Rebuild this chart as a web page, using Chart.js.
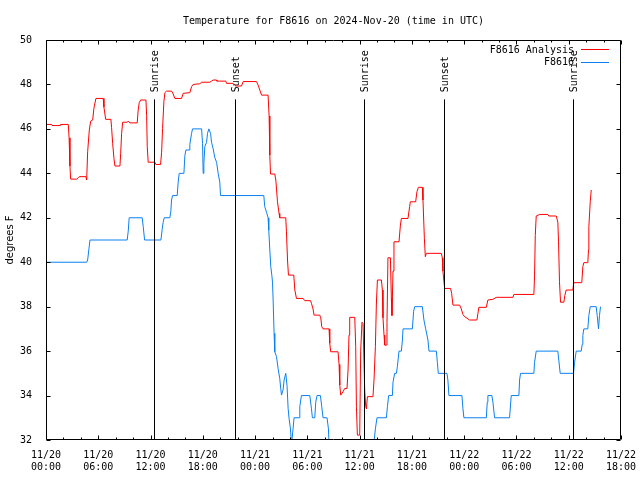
<!DOCTYPE html>
<html><head><meta charset="utf-8">
<script src="https://cdn.jsdelivr.net/npm/chart.js@4.4.1/dist/chart.umd.min.js"></script>
<style>html,body{margin:0;padding:0;background:#fff;}#wrap{width:640px;height:480px;position:relative;}</style>
</head><body><div id="wrap"><canvas id="c" width="640" height="480"></canvas></div>
<script>
// Hours since 2024-11-20 00:00 UTC
const analysisHours = [0,0.65,0.69,1.61,1.65,2.56,2.65,2.75,2.83,3.52,3.70,3.82,4.59,4.67,4.78,4.97,5.13,5.36,5.50,5.73,6.57,6.65,6.85,7.45,7.53,7.65,7.80,7.91,8.49,8.57,8.68,8.80,9.32,9.44,9.63,10.47,10.58,10.70,10.86,11.47,11.55,11.62,11.73,12.50,12.61,13.15,13.27,13.38,13.53,13.65,13.84,14.42,14.60,14.79,15.56,15.75,16.51,16.71,16.89,17.66,17.86,18.81,19.00,19.19,19.58,19.61,20.64,20.72,21.48,21.67,21.79,22.44,22.63,24.16,24.35,24.54,24.74,25.49,25.61,25.69,25.77,26.26,26.38,26.57,26.75,26.83,27.52,27.60,27.72,27.83,28.44,28.56,28.75,29.51,29.70,30.36,30.47,30.65,30.77,31.42,31.54,31.65,31.80,32.49,32.57,32.68,33.52,33.64,33.72,33.83,34.09,34.29,34.55,34.67,34.78,34.86,35.44,35.55,35.63,35.74,36.01,36.12,36.27,36.39,36.58,36.70,36.78,36.89,37.53,37.65,37.81,37.92,38.04,38.50,38.61,38.68,38.80,38.88,39.07,39.14,39.25,39.53,39.64,39.71,39.83,39.94,40.52,40.68,40.79,41.55,41.74,41.82,42.43,42.58,42.74,43.20,43.27,43.43,43.54,43.66,45.38,45.49,45.56,45.68,45.76,46.44,46.56,46.71,47.48,47.67,47.86,48.05,48.62,49.46,49.58,49.69,50.54,50.72,51.30,51.69,53.59,53.70,56.00,56.08,56.16,56.27,56.65,57.60,57.72,58.57,58.75,58.83,58.94,59.06,59.44,59.55,59.71,60.47,60.58,61.50,61.62,61.73,62.19,62.27,62.31,62.47,62.58];
const analysisTemps = [46.2,46.2,46.15,46.15,46.2,46.2,45.6,44.33,43.74,43.74,43.8,43.85,43.85,43.7,44.97,45.95,46.35,46.4,46.93,47.37,47.37,46.98,46.43,46.43,46.05,45.35,44.67,44.33,44.33,44.9,45.8,46.3,46.3,46.35,46.27,46.27,46.85,47.18,47.3,47.3,46.6,45.2,44.5,44.5,44.4,44.4,44.95,46.02,47.22,47.63,47.7,47.7,47.57,47.37,47.37,47.6,47.63,47.9,48.0,48.03,48.1,48.1,48.15,48.2,48.2,48.15,48.15,48.05,48.05,47.97,47.93,47.93,48.13,48.13,47.97,47.75,47.52,47.52,46.58,44.82,43.97,43.97,43.7,42.72,42.2,42.0,42.0,41.37,40.1,39.42,39.42,38.75,38.37,38.37,38.27,38.27,38.15,37.9,37.62,37.62,37.5,37.1,37.0,37.0,36.35,35.97,35.97,35.4,34.47,34.02,34.17,34.32,34.32,35.15,36.72,37.52,37.52,36.2,33.5,32.22,32.22,36.0,37.3,37.25,34.25,33.5,33.4,33.95,33.95,34.7,36.2,38.12,39.2,39.2,38.75,37.5,36.72,36.27,36.27,37.3,40.2,40.2,38.4,37.6,39.6,40.92,40.92,41.67,41.97,41.97,42.5,42.72,42.72,43.17,43.37,43.37,42.8,41.08,40.25,40.4,40.4,40.2,39.6,39.12,38.82,38.82,38.6,38.07,38.07,37.9,37.65,37.55,37.4,37.4,37.7,37.97,37.97,38.3,38.33,38.42,38.42,38.55,38.55,39.42,41.2,42.08,42.15,42.15,42.08,42.08,41.8,40.92,39.12,38.2,38.2,38.5,38.75,38.75,39.08,39.08,39.8,39.98,39.98,40.55,41.6,42.72,43.25];
const obsHours = [0,4.67,4.78,4.93,5.05,9.32,9.44,9.55,11.04,11.16,11.32,13.19,13.34,13.45,13.57,14.22,14.33,14.41,14.53,15.06,15.17,15.29,15.83,15.94,16.06,16.43,16.51,16.71,16.82,17.86,17.97,18.04,18.12,18.23,18.43,18.54,18.69,18.89,19.00,19.19,19.38,19.58,19.76,19.95,20.03,25.00,25.11,25.31,25.49,25.57,25.69,25.80,25.92,26.00,26.07,26.18,26.26,26.46,26.64,26.83,26.95,27.03,27.21,27.33,27.52,27.67,27.79,27.90,28.06,28.18,28.36,28.47,29.05,29.13,29.32,30.28,30.47,30.58,30.85,30.96,31.11,31.50,31.65,31.80,32.26,32.42,32.49,32.80,34.29,34.86,36.58,37.39,37.81,37.99,39.07,39.19,39.33,39.76,39.83,40.02,40.22,40.33,40.52,40.79,40.91,40.98,42.05,42.20,42.32,43.20,43.38,43.58,43.84,43.96,44.81,44.92,45.03,46.02,46.13,46.25,47.74,47.86,47.97,50.54,50.65,50.72,51.18,51.30,51.49,53.21,53.40,54.28,54.36,54.47,56.00,56.08,56.27,58.75,58.86,59.02,60.55,60.67,60.86,61.43,61.55,61.62,61.73,62.19,62.31,62.47,63.15,63.27,63.42,63.53,63.65];
const obsTemps = [40,40,40.1,40.6,41,41,41.4,42,42,41.6,41,41,41.5,41.8,42,42,42.3,42.8,43,43,43.6,44,44,44.8,45.05,45.05,45.3,45.8,46,46,45.35,44.0,44.45,45.2,45.4,45.8,46,45.8,45.4,45.1,44.7,44.5,44.0,43.6,43,43,42.5,42.25,42,41.45,40.55,39.8,39.42,39.1,38.3,36.8,35.97,35.75,35.22,34.77,34.3,34.02,34.25,34.7,35.0,34.42,33.42,32.97,32.5,31.8,32.5,33,33,33.5,34,34,33.4,33,33,33.7,34,34,33.5,33,33,32.5,31.8,31,31,30,30,31,32.5,33,33,33.5,34,34,34.6,35,35,35.3,36,36,36.5,37,37,37.8,38,38,37.4,37,36.5,36,36,35.5,35,35,34.7,34,34,33.4,33,33,33.7,34,34,33.7,33,33,34,34,34.7,35,35,35.5,36,36,35.6,35,35,35.5,36,36,36.3,36.7,37,37,37.6,38,38,37.6,37,37.6,38];
const sunEventHours = [12.42, 21.67, 36.5, 45.68, 60.47];
const sunEventLabels = ["Sunrise", "Sunset", "Sunrise", "Sunset", "Sunrise"];
const sunLineTopTemp = 47.33;
const xTickHours = [0, 6, 12, 18, 24, 30, 36, 42, 48, 54, 60, 66];
const xTickDates = ["11/20","11/20","11/20","11/20","11/21","11/21","11/21","11/21","11/22","11/22","11/22","11/22"];
const xTickTimes = ["00:00","06:00","12:00","18:00","00:00","06:00","12:00","18:00","00:00","06:00","12:00","18:00"];
const yTicks = [32, 34, 36, 38, 40, 42, 44, 46, 48, 50];
const seriesNames = ["F8616 Analysis", "F8616"];
const seriesColors = ["#ff0000", "#0a80f0"];
const titleText = "Temperature for F8616 on 2024-Nov-20 (time in UTC)";
const yTitle = "degrees F";

const MONO = "'DejaVu Sans Mono', 'Liberation Mono', monospace";
const SANS = "'DejaVu Sans', sans-serif";

const overlay = {
  id: 'overlay',
  afterDraw(chart) {
    const { ctx, chartArea: a, scales: { x, y } } = chart;
    ctx.save();
    ctx.strokeStyle = '#000';
    ctx.lineWidth = 1;
    const L = Math.round(a.left) + 0.5, R = Math.round(a.right) - 0.5;
    const T = Math.round(a.top) + 0.5, B = Math.round(a.bottom) - 0.5;
    // sunrise / sunset lines
    ctx.beginPath();
    sunEventHours.forEach(h => {
      const px = Math.round(x.getPixelForValue(h)) + 0.5;
      ctx.moveTo(px, y.getPixelForValue(32));
      ctx.lineTo(px, y.getPixelForValue(sunLineTopTemp));
    });
    ctx.stroke();
    ctx.fillStyle = '#000';
    ctx.font = "10px " + MONO;
    sunEventHours.forEach((h, i) => {
      const px = Math.round(x.getPixelForValue(h)) + 0.5;
      const top = y.getPixelForValue(sunLineTopTemp);
      ctx.save();
      ctx.translate(px + 1, top - 7);
      ctx.rotate(-Math.PI / 2);
      ctx.textAlign = 'left';
      ctx.textBaseline = 'middle';
      ctx.fillText(sunEventLabels[i], 0, 0);
      ctx.restore();
    });
    // frame
    ctx.beginPath();
    ctx.rect(L, T, R - L, B - T);
    ctx.stroke();
    // ticks
    ctx.beginPath();
    yTicks.forEach(v => {
      const py = Math.round(y.getPixelForValue(v)) + 0.5;
      ctx.moveTo(L, py); ctx.lineTo(L + 4, py);
      ctx.moveTo(R, py); ctx.lineTo(R - 4, py);
    });
    for (let h = 0; h <= 66; h += 2) {
      const px = Math.round(x.getPixelForValue(h)) + 0.5;
      const len = (h % 6 === 0) ? 4 : 2;
      ctx.moveTo(px, B); ctx.lineTo(px, B - len);
      ctx.moveTo(px, T); ctx.lineTo(px, T + len);
    }
    ctx.stroke();
    // title
    ctx.font = "10px " + MONO;
    ctx.textAlign = 'center';
    ctx.textBaseline = 'middle';
    ctx.fillText(titleText, (a.left + a.right) / 2, 21);
    // y title
    ctx.save();
    ctx.font = "10px " + SANS;
    ctx.translate(10, (a.top + a.bottom) / 2);
    ctx.rotate(-Math.PI / 2);
    ctx.fillText(yTitle, 0, 0);
    ctx.restore();
    // legend
    ctx.font = "10px " + MONO;
    ctx.textAlign = 'right';
    ctx.textBaseline = 'middle';
    chart.data.datasets.forEach((ds, i) => {
      const ly = a.top + 10 + i * 12.5;
      ctx.fillStyle = '#000';
      ctx.fillText(ds.label, a.right - 47, ly);
      ctx.strokeStyle = ds.borderColor;
      ctx.beginPath();
      ctx.moveTo(a.right - 40, Math.round(ly) - 0.5);
      ctx.lineTo(a.right - 12, Math.round(ly) - 0.5);
      ctx.stroke();
    });
    ctx.restore();
  }
};

const toPts = (hs, vs) => hs.map((h, i) => ({ x: h, y: vs[i] }));

new Chart(document.getElementById('c'), {
  type: 'line',
  data: {
    datasets: [
      { label: seriesNames[0], data: toPts(analysisHours, analysisTemps), borderColor: seriesColors[0], borderWidth: 1, pointRadius: 0, tension: 0, fill: false },
      { label: seriesNames[1], data: toPts(obsHours, obsTemps), borderColor: seriesColors[1], borderWidth: 1, pointRadius: 0, tension: 0, fill: false }
    ]
  },
  options: {
    responsive: false,
    animation: false,
    devicePixelRatio: 1,
    layout: { padding: { top: 40, right: 19, left: 0, bottom: 0 } },
    plugins: { legend: { display: false }, title: { display: false }, tooltip: { enabled: false } },
    scales: {
      x: {
        type: 'linear', min: 0, max: 66,
        grid: { display: false }, border: { display: false },
        afterBuildTicks: s => { s.ticks = xTickHours.map(v => ({ value: v })); },
        afterFit: s => { s.height = 40; s.paddingLeft = 0; s.paddingRight = 0; },
        ticks: {
          autoSkip: false, maxRotation: 0, padding: 1, color: '#000',
          font: { family: MONO, size: 10, lineHeight: 1.25 },
          callback: v => { const i = xTickHours.indexOf(v); return i < 0 ? '' : [xTickDates[i], xTickTimes[i]]; }
        }
      },
      y: {
        type: 'linear', min: 32, max: 50,
        grid: { display: false }, border: { display: false },
        afterBuildTicks: s => { s.ticks = yTicks.map(v => ({ value: v })); },
        afterFit: s => { s.width = 46; s.paddingTop = 0; s.paddingBottom = 0; },
        ticks: { padding: 6, color: '#000', font: { family: MONO, size: 10 } }
      }
    }
  },
  plugins: [overlay]
});
</script></body></html>
